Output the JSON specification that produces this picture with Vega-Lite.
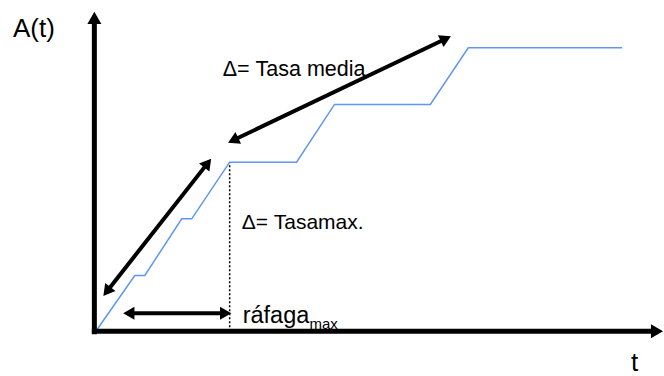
{
  "$schema": "https://vega.github.io/schema/vega-lite/v6.json",
  "autosize": {"type": "fit", "contains": "padding"},
  "width": 664,
  "height": 376,
  "padding": 0,
  "background": "white",
  "config": {"view": {"stroke": null}},
  "encoding": {
    "x": {"field": "t", "type": "quantitative", "scale": {"domain": [-95, 569], "nice": false, "zero": false}, "axis": null},
    "y": {"field": "a", "type": "quantitative", "scale": {"domain": [-43, 333], "nice": false, "zero": false}, "axis": null}
  },
  "layer": [
    {
      "data": {"values": [
        {"t": 135, "a": 0, "a2": 170}
      ]},
      "mark": {"type": "rule", "color": "black", "strokeWidth": 1.5, "strokeDash": [2, 2]},
      "encoding": {"y2": {"field": "a2"}}
    },
    {
      "data": {"values": [
        {"t": 1, "a": 0}, {"t": 40, "a": 56}, {"t": 50, "a": 56}, {"t": 87, "a": 113},
        {"t": 97, "a": 113}, {"t": 135, "a": 170}, {"t": 202, "a": 170}, {"t": 240, "a": 228},
        {"t": 336, "a": 228}, {"t": 374, "a": 285}, {"t": 528, "a": 285}
      ]},
      "mark": {"type": "line", "color": "#5f95f5", "strokeWidth": 1.5, "interpolate": "linear"},
      "encoding": {"order": {"field": "t", "type": "quantitative"}}
    },
    {
      "data": {"values": [
        {"name": "A(t)", "t": -0.5, "a": -3, "t2": -0.5, "a2": 315},
        {"name": "t", "t": -3, "a": 0, "t2": 563, "a2": 0}
      ]},
      "layer": [
        {"mark": {"type": "rule", "color": "black", "strokeWidth": 5}, "encoding": {"x2": {"field": "t2"}, "y2": {"field": "a2"}}},
        {
          "transform": [{"calculate": "atan2(datum.t2 - datum.t, datum.a2 - datum.a) * 180 / PI", "as": "ang"}],
          "mark": {"type": "point", "shape": "triangle-up", "filled": true, "color": "black", "opacity": 1, "size": 196},
          "encoding": {
            "x": {"field": "t2", "type": "quantitative"},
            "y": {"field": "a2", "type": "quantitative"},
            "angle": {"field": "ang", "type": "quantitative", "scale": null}
          }
        }
      ]
    },
    {
      "data": {"values": [
        {"name": "burst slope", "t": 12, "a": 40, "t2": 113, "a2": 169},
        {"name": "mean slope", "t": 138.5, "a": 192, "t2": 351.5, "a2": 294},
        {"name": "burst length", "t": 34, "a": 18, "t2": 131, "a2": 18}
      ]},
      "transform": [{"calculate": "atan2(datum.t2 - datum.t, datum.a2 - datum.a) * 180 / PI", "as": "ang"},
                    {"calculate": "datum.ang + 180", "as": "ang0"}],
      "layer": [
        {"mark": {"type": "rule", "color": "black", "strokeWidth": 4}, "encoding": {"x2": {"field": "t2"}, "y2": {"field": "a2"}}},
        {
          "mark": {"type": "point", "shape": "triangle-up", "filled": true, "color": "black", "opacity": 1, "size": 170},
          "encoding": {
            "x": {"field": "t2", "type": "quantitative"},
            "y": {"field": "a2", "type": "quantitative"},
            "angle": {"field": "ang", "type": "quantitative", "scale": null}
          }
        },
        {
          "mark": {"type": "point", "shape": "triangle-up", "filled": true, "color": "black", "opacity": 1, "size": 170},
          "encoding": {
            "angle": {"field": "ang0", "type": "quantitative", "scale": null}
          }
        }
      ]
    },
    {
      "data": {"values": [
        {"t": -82, "a": 296, "label": "A(t)"},
        {"t": 537, "a": -40, "label": "t"}
      ]},
      "mark": {"type": "text", "align": "left", "baseline": "alphabetic", "font": "Liberation Sans", "fontSize": 26, "color": "black"},
      "encoding": {"text": {"field": "label"}}
    },
    {
      "data": {"values": [
        {"t": 128, "a": 256.5, "label": "Δ= Tasa media"}
      ]},
      "mark": {"type": "text", "align": "left", "baseline": "alphabetic", "font": "Liberation Sans", "fontSize": 21.5, "color": "black"},
      "encoding": {"text": {"field": "label"}}
    },
    {
      "data": {"values": [
        {"t": 147, "a": 103, "label": "Δ= Tasamax."}
      ]},
      "mark": {"type": "text", "align": "left", "baseline": "alphabetic", "font": "Liberation Sans", "fontSize": 21, "color": "black"},
      "encoding": {"text": {"field": "label"}}
    },
    {
      "data": {"values": [
        {"t": 148, "a": 8, "label": "ráfaga"}
      ]},
      "mark": {"type": "text", "align": "left", "baseline": "alphabetic", "font": "Liberation Sans", "fontSize": 23.5, "color": "black"},
      "encoding": {"text": {"field": "label"}}
    },
    {
      "data": {"values": [
        {"t": 215, "a": 2, "label": "max"}
      ]},
      "mark": {"type": "text", "align": "left", "baseline": "alphabetic", "font": "Liberation Sans", "fontSize": 15, "color": "black"},
      "encoding": {"text": {"field": "label"}}
    }
  ]
}
